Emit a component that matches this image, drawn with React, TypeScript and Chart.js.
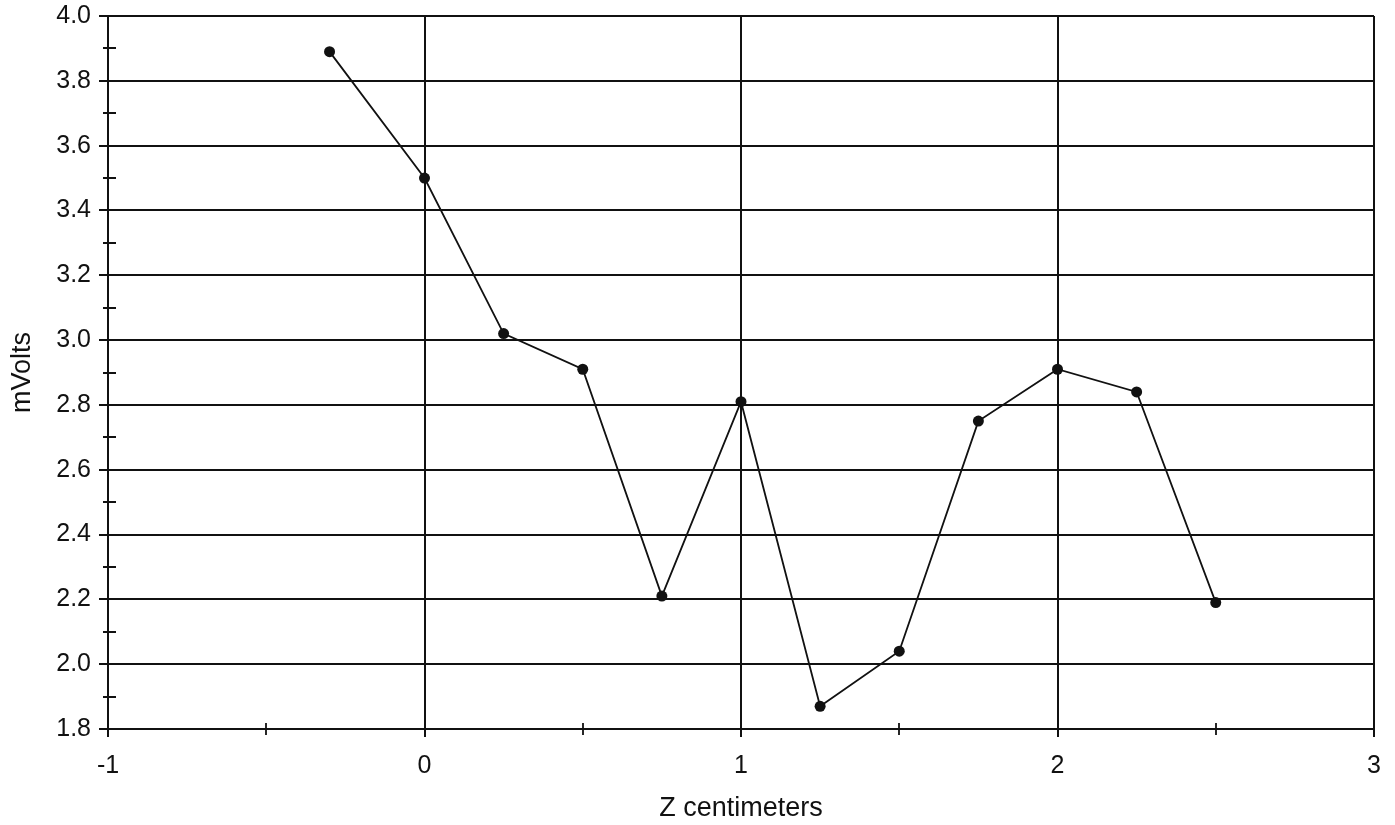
import React, { useEffect, useRef } from "react";
import { Chart, registerables } from "chart.js";

Chart.register(...registerables);

// Data
const zCentimeters = [-0.3, 0, 0.25, 0.5, 0.75, 1, 1.25, 1.5, 1.75, 2, 2.25, 2.5];
const mVolts = [3.89, 3.5, 3.02, 2.91, 2.21, 2.81, 1.87, 2.04, 2.75, 2.91, 2.84, 2.19];

// Axis ranges / tick values
const xMin = -1;
const xMax = 3;
const yMin = 1.8;
const yMax = 4.0;
const xMinorTicks = [-0.5, 0.5, 1.5, 2.5];
const yMinorTicks = [1.9, 2.1, 2.3, 2.5, 2.7, 2.9, 3.1, 3.3, 3.5, 3.7, 3.9];

const FONT = "'Liberation Sans', Arial, Helvetica, sans-serif";
const INK = "#111111";

const minorTickPlugin = {
  id: "minorTicks",
  afterDraw(chart: any) {
    const { ctx, chartArea, scales } = chart;
    const xs = scales.x;
    const ys = scales.y;
    ctx.save();
    ctx.strokeStyle = INK;
    ctx.lineWidth = 1.8;
    ctx.beginPath();
    yMinorTicks.forEach((v) => {
      const py = Math.round(ys.getPixelForValue(v));
      ctx.moveTo(chartArea.left - 5, py);
      ctx.lineTo(chartArea.left + 8, py);
    });
    xMinorTicks.forEach((v) => {
      const px = Math.round(xs.getPixelForValue(v));
      ctx.moveTo(px, chartArea.bottom - 6);
      ctx.lineTo(px, chartArea.bottom + 6);
    });
    ctx.stroke();
    ctx.restore();
  },
};

export default function App() {
  const canvasRef = useRef<HTMLCanvasElement | null>(null);

  useEffect(() => {
    if (!canvasRef.current) return;
    const points = zCentimeters.map((x, i) => ({ x, y: mVolts[i] }));
    const chart = new Chart(canvasRef.current, {
      type: "line",
      data: {
        datasets: [
          {
            data: points,
            borderColor: INK,
            borderWidth: 1.8,
            backgroundColor: INK,
            pointBackgroundColor: INK,
            pointBorderColor: INK,
            pointRadius: 5.5,
            pointBorderWidth: 0,
            tension: 0,
            fill: false,
          },
        ],
      },
      options: {
        responsive: false,
        animation: false,
        layout: { padding: { top: 16, right: 21, left: 0, bottom: 0 } },
        plugins: {
          legend: { display: false },
          tooltip: { enabled: false },
        },
        scales: {
          x: {
            type: "linear",
            min: xMin,
            max: xMax,
            afterFit: (s: any) => {
              s.height = 96;
              s.paddingLeft = 0;
              s.paddingRight = 0;
            },
            ticks: {
              stepSize: 1,
              color: INK,
              font: { family: FONT, size: 25 },
              padding: 14,
              maxRotation: 0,
              callback: (v: any) => String(Math.round(Number(v))),
            },
            grid: {
              color: INK,
              lineWidth: 2,
              drawTicks: true,
              tickLength: 8,
              tickColor: INK,
            },
            border: { display: true, color: INK, width: 2 },
            title: {
              display: true,
              text: "Z centimeters",
              color: INK,
              font: { family: FONT, size: 27 },
              padding: { top: 0, bottom: 0 },
            },
          },
          y: {
            type: "linear",
            min: yMin,
            max: yMax,
            afterFit: (s: any) => {
              s.width = 108;
              s.paddingTop = 0;
              s.paddingBottom = 0;
            },
            ticks: {
              stepSize: 0.2,
              color: INK,
              font: { family: FONT, size: 25 },
              padding: 8,
              callback: (v: any) => Number(v).toFixed(1),
            },
            grid: {
              color: INK,
              lineWidth: 2,
              drawTicks: true,
              tickLength: 9,
              tickColor: INK,
            },
            border: { display: true, color: INK, width: 2 },
            title: {
              display: true,
              text: "mVolts",
              color: INK,
              font: { family: FONT, size: 27 },
              padding: { top: 6, bottom: 0 },
            },
          },
        },
      },
      plugins: [minorTickPlugin],
    });
    return () => chart.destroy();
  }, []);

  return (
    <div
      style={{
        position: "fixed",
        left: 0,
        top: 0,
        width: 1395,
        height: 825,
        background: "#ffffff",
      }}
    >
      <canvas ref={canvasRef} width={1395} height={825} style={{ display: "block" }} />
    </div>
  );
}
